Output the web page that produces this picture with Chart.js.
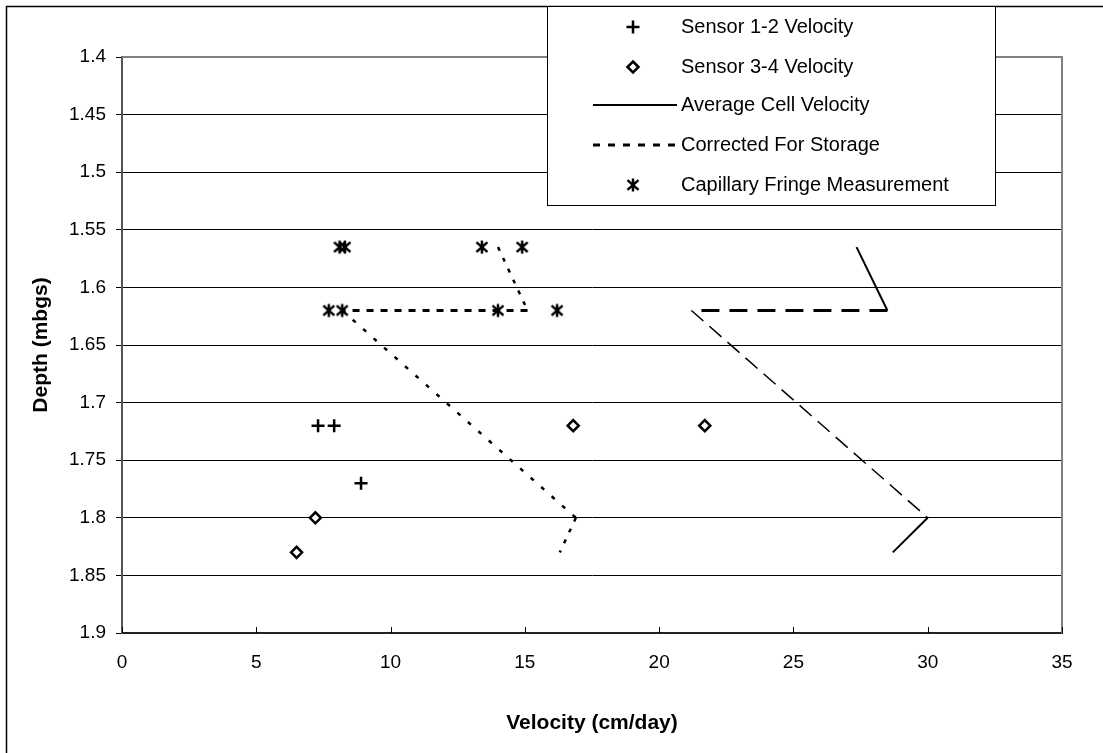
<!DOCTYPE html>
<html>
<head>
<meta charset="utf-8">
<title>Depth vs Velocity</title>
<script src="https://cdn.jsdelivr.net/npm/chart.js@4.4.0/dist/chart.umd.min.js"></script>
<style>
    html, body { margin: 0; padding: 0; background: #ffffff; overflow: hidden; }
    #chartWrap { position: relative; width: 1103px; height: 753px; }
</style>
</head>
<body>
<div id="chartWrap">
    <canvas id="depthChart" width="1103" height="753"></canvas>
</div>
<script>
// Eixos
const xTicks = [0, 5, 10, 15, 20, 25, 30, 35];
const yTicks = [1.4, 1.45, 1.5, 1.55, 1.6, 1.65, 1.7, 1.75, 1.8, 1.85, 1.9];

// Sensor 1-2 Velocity
const sensor12X = [7.3, 7.9, 8.9];
const sensor12Y = [1.72, 1.72, 1.77];

// Sensor 3-4 Velocity
const sensor34X = [16.8, 21.7, 7.2, 6.5];
const sensor34Y = [1.72, 1.72, 1.80, 1.83];

// Average Cell Velocity
const averageX = [27.35, 28.5, 21.2, 30.0, 28.7];
const averageY = [1.565, 1.62, 1.62, 1.80, 1.83];

// Corrected For Storage
const correctedX = [14.0, 15.1, 8.2, 16.9, 16.3];
const correctedY = [1.565, 1.62, 1.62, 1.80, 1.83];

// Capillary Fringe Measurement
const capillaryX = [8.1, 8.3, 13.4, 14.9, 7.7, 8.2, 14.0, 16.2];
const capillaryY = [1.565, 1.565, 1.565, 1.565, 1.62, 1.62, 1.62, 1.62];

const seriesNames = [
    'Sensor 1-2 Velocity',
    'Sensor 3-4 Velocity',
    'Average Cell Velocity',
    'Corrected For Storage',
    'Capillary Fringe Measurement'
];

// Estilos de cada trecho das linhas
const averageDash = [[], [18, 10], [16, 8], []];
const averageWidth = [2, 3, 1.5, 2];
const correctedDash = [[4, 8], [7, 7], [4, 10], [4, 8]];
const correctedWidth = [2.5, 3, 2.5, 2.5];

const FONT = "'Liberation Sans', Arial, sans-serif";

document.addEventListener('DOMContentLoaded', function() {
    initDepthChart();
});

function toPoints(xs, ys) {
    return xs.map((x, i) => ({ x: x, y: ys[i] }));
}

// Asterisco (X com barra vertical)
function drawAsterisk(ctx, cx, cy, r) {
    ctx.beginPath();
    ctx.moveTo(cx, cy - r);
    ctx.lineTo(cx, cy + r);
    ctx.moveTo(cx - r * 0.85, cy - r * 0.75);
    ctx.lineTo(cx + r * 0.85, cy + r * 0.75);
    ctx.moveTo(cx + r * 0.85, cy - r * 0.75);
    ctx.lineTo(cx - r * 0.85, cy + r * 0.75);
    ctx.stroke();
}

function makeAsteriskImage() {
    const c = document.createElement('canvas');
    c.width = 16;
    c.height = 16;
    const g = c.getContext('2d');
    g.strokeStyle = '#000000';
    g.lineWidth = 2.5;
    drawAsterisk(g, 8, 8, 6.5);
    return c;
}

function drawPlus(ctx, cx, cy, r) {
    ctx.beginPath();
    ctx.moveTo(cx - r, cy);
    ctx.lineTo(cx + r, cy);
    ctx.moveTo(cx, cy - r);
    ctx.lineTo(cx, cy + r);
    ctx.stroke();
}

function drawDiamond(ctx, cx, cy, r) {
    ctx.beginPath();
    ctx.moveTo(cx, cy - r);
    ctx.lineTo(cx + r, cy);
    ctx.lineTo(cx, cy + r);
    ctx.lineTo(cx - r, cy);
    ctx.closePath();
    ctx.fillStyle = '#ffffff';
    ctx.fill();
    ctx.stroke();
}

// Moldura, borda direita, marcas internas do eixo X e legenda
const framePlugin = {
    id: 'frame',
    beforeDraw(chart) {
        const ctx = chart.ctx;
        ctx.save();
        ctx.fillStyle = '#ffffff';
        ctx.fillRect(0, 0, chart.width, chart.height);
        ctx.strokeStyle = '#000000';
        ctx.lineWidth = 1.5;
        ctx.strokeRect(6.5, 6.5, chart.width + 100, chart.height + 100);
        ctx.restore();
    },
    afterDraw(chart) {
        const ctx = chart.ctx;
        const area = chart.chartArea;
        const xScale = chart.scales.x;
        ctx.save();

        // borda superior e direita da área do gráfico
        ctx.strokeStyle = '#808080';
        ctx.lineWidth = 2;
        ctx.beginPath();
        ctx.moveTo(area.left, area.top);
        ctx.lineTo(area.right, area.top);
        ctx.lineTo(area.right, area.bottom);
        ctx.stroke();

        // marcas do eixo X (para dentro)
        ctx.strokeStyle = '#000000';
        ctx.lineWidth = 1;
        xTicks.forEach(v => {
            const px = Math.round(xScale.getPixelForValue(v)) + 0.5;
            ctx.beginPath();
            ctx.moveTo(px, area.bottom);
            ctx.lineTo(px, area.bottom - 6);
            ctx.stroke();
        });

        drawLegend(ctx);
        ctx.restore();
    }
};

function drawLegend(ctx) {
    const box = { left: 547.5, top: 6.5, right: 995.5, bottom: 205.5 };
    const rows = [27, 67, 105, 145, 185];
    const markerX = 633;
    const lineFrom = 593;
    const lineTo = 677;
    const textX = 681;

    ctx.fillStyle = '#ffffff';
    ctx.fillRect(box.left, box.top, box.right - box.left, box.bottom - box.top);
    ctx.strokeStyle = '#000000';
    ctx.lineWidth = 1;
    ctx.strokeRect(box.left, box.top, box.right - box.left, box.bottom - box.top);

    ctx.strokeStyle = '#000000';
    ctx.lineWidth = 2.5;
    drawPlus(ctx, markerX, rows[0], 6.5);
    drawDiamond(ctx, markerX, rows[1], 5.5);

    ctx.lineWidth = 2;
    ctx.setLineDash([]);
    ctx.beginPath();
    ctx.moveTo(lineFrom, rows[2]);
    ctx.lineTo(lineTo, rows[2]);
    ctx.stroke();

    ctx.lineWidth = 3;
    ctx.setLineDash([7, 8]);
    ctx.beginPath();
    ctx.moveTo(lineFrom, rows[3]);
    ctx.lineTo(lineTo, rows[3]);
    ctx.stroke();
    ctx.setLineDash([]);

    ctx.lineWidth = 2.5;
    drawAsterisk(ctx, markerX, rows[4], 6.5);

    ctx.fillStyle = '#000000';
    ctx.font = '20px ' + FONT;
    ctx.textAlign = 'left';
    ctx.textBaseline = 'middle';
    seriesNames.forEach((name, i) => {
        ctx.fillText(name, textX, rows[i]);
    });
}

function initDepthChart() {
    const ctx = document.getElementById('depthChart').getContext('2d');
    const asterisk = makeAsteriskImage();

    Chart.defaults.font.family = FONT;
    Chart.defaults.color = '#000000';

    const data = {
        datasets: [
            {
                label: seriesNames[0],
                data: toPoints(sensor12X, sensor12Y),
                pointStyle: 'cross',
                pointRadius: 6.5,
                pointBorderWidth: 2.5,
                borderColor: '#000000',
                backgroundColor: '#000000',
                showLine: false,
                order: 0
            },
            {
                label: seriesNames[1],
                data: toPoints(sensor34X, sensor34Y),
                pointStyle: 'rectRot',
                pointRadius: 5.5,
                pointBorderWidth: 2.5,
                borderColor: '#000000',
                backgroundColor: '#ffffff',
                showLine: false,
                order: 0
            },
            {
                label: seriesNames[2],
                data: toPoints(averageX, averageY),
                showLine: true,
                pointRadius: 0,
                borderColor: '#000000',
                borderWidth: 2,
                borderCapStyle: 'butt',
                segment: {
                    borderDash: c => averageDash[c.p0DataIndex],
                    borderWidth: c => averageWidth[c.p0DataIndex]
                },
                order: 1
            },
            {
                label: seriesNames[3],
                data: toPoints(correctedX, correctedY),
                showLine: true,
                pointRadius: 0,
                borderColor: '#000000',
                borderWidth: 2.5,
                borderCapStyle: 'butt',
                segment: {
                    borderDash: c => correctedDash[c.p0DataIndex],
                    borderWidth: c => correctedWidth[c.p0DataIndex]
                },
                order: 1
            },
            {
                label: seriesNames[4],
                data: toPoints(capillaryX, capillaryY),
                pointStyle: asterisk,
                pointRadius: 7,
                borderColor: '#000000',
                showLine: false,
                order: 0
            }
        ]
    };

    const config = {
        type: 'scatter',
        data: data,
        options: {
            responsive: false,
            animation: false,
            events: [],
            layout: {
                padding: { top: 57, right: 41, bottom: 0, left: 0 }
            },
            plugins: {
                legend: { display: false },
                tooltip: { enabled: false }
            },
            scales: {
                x: {
                    type: 'linear',
                    position: 'bottom',
                    min: 0,
                    max: 35,
                    afterBuildTicks: scale => {
                        scale.ticks = xTicks.map(v => ({ value: v }));
                    },
                    afterFit: scale => {
                        scale.height = 120;
                    },
                    grid: { display: false, drawTicks: false },
                    border: { display: true, color: '#222222', width: 2 },
                    ticks: {
                        color: '#000000',
                        padding: 18,
                        font: { size: 19 },
                        maxRotation: 0
                    },
                    title: {
                        display: true,
                        text: 'Velocity (cm/day)',
                        color: '#000000',
                        font: { size: 21, weight: 'bold' },
                        padding: { top: 0, bottom: 17 }
                    }
                },
                y: {
                    type: 'linear',
                    position: 'left',
                    reverse: true,
                    min: 1.4,
                    max: 1.9,
                    afterBuildTicks: scale => {
                        scale.ticks = yTicks.map(v => ({ value: v }));
                    },
                    afterFit: scale => {
                        scale.width = 122;
                    },
                    grid: {
                        color: '#000000',
                        lineWidth: 1,
                        drawTicks: true,
                        tickLength: 6,
                        tickColor: '#000000'
                    },
                    border: { display: true, color: '#555555', width: 2 },
                    ticks: {
                        color: '#000000',
                        padding: 10,
                        font: { size: 19 },
                        callback: v => String(Number(v.toFixed(2)))
                    },
                    title: {
                        display: true,
                        text: 'Depth (mbgs)',
                        color: '#000000',
                        font: { size: 21, weight: 'bold' },
                        padding: { top: 29, bottom: 0 }
                    }
                }
            }
        },
        plugins: [framePlugin]
    };

    new Chart(ctx, config);
}
</script>
</body>
</html>
